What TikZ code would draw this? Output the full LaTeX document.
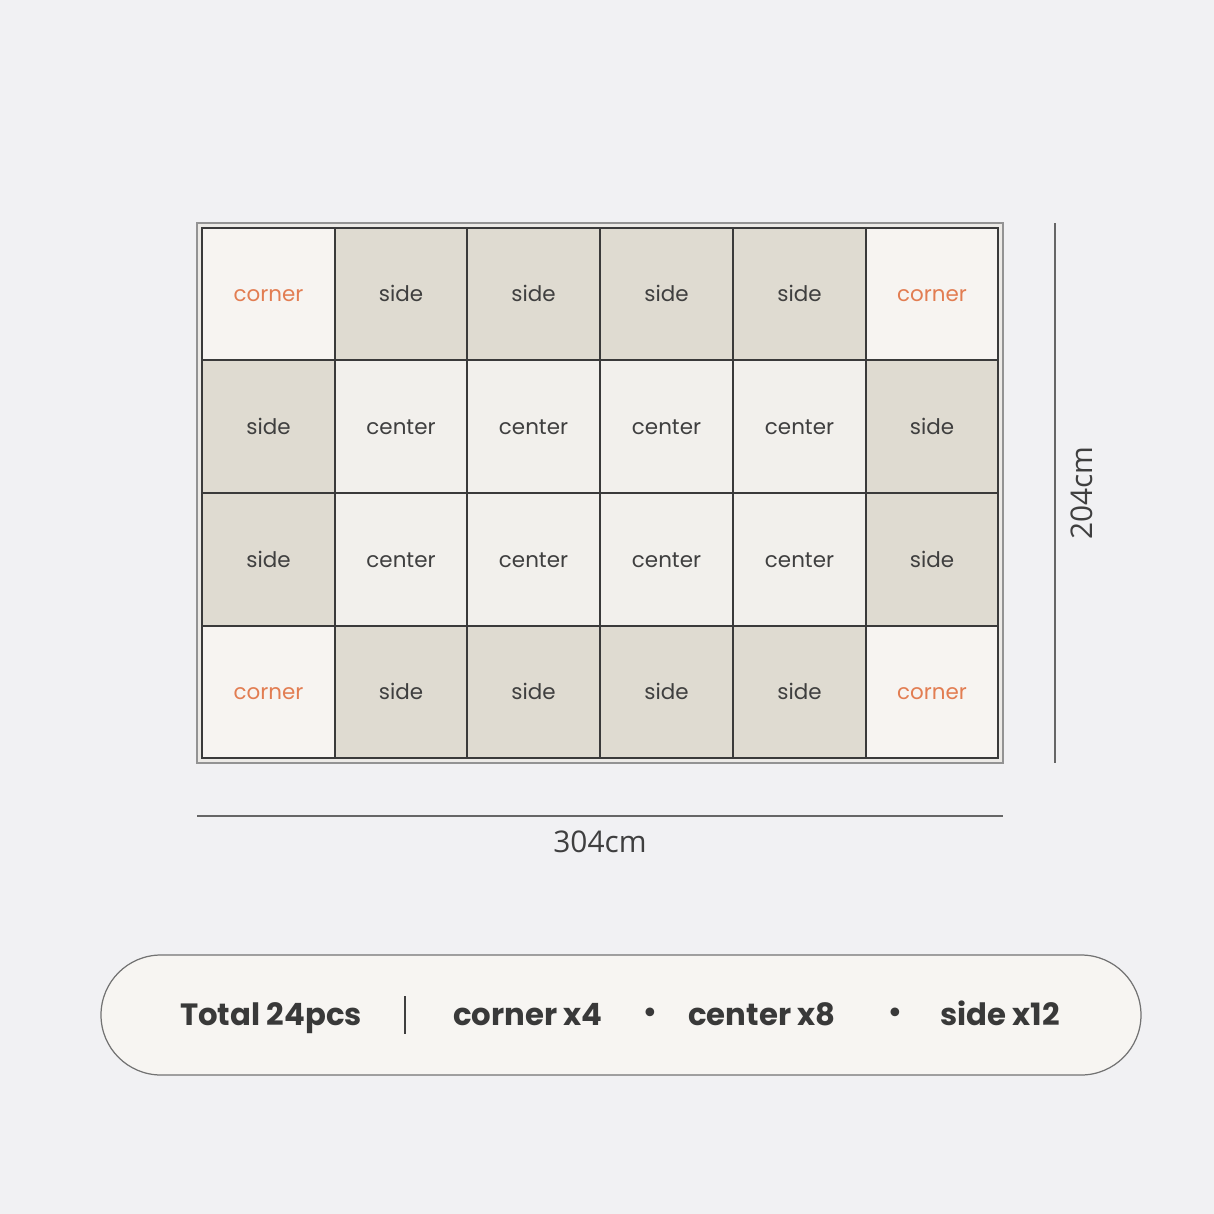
\documentclass[tikz,border=0pt]{standalone}
\usepackage{fontspec}
\setmainfont{Poppins}
\newfontfamily\dimfont{Open Sans}
\newfontfamily\dotfont{DejaVu Sans}
\usetikzlibrary{positioning}

\definecolor{pagebg}{HTML}{F1F1F3}
\definecolor{cornerfill}{HTML}{F7F4F1}
\definecolor{sidefill}{HTML}{DFDBD1}
\definecolor{centerfill}{HTML}{F2F0EC}
\definecolor{framefill}{HTML}{ECEAE6}
\definecolor{gridline}{HTML}{3A3A3A}
\definecolor{orangetext}{HTML}{E27D52}
\definecolor{darktext}{HTML}{3F3F3F}
\definecolor{pillfill}{HTML}{F7F5F2}

\tikzset{
  tile/.style={draw=gridline, line width=0.7pt, inner sep=0pt,
    text height=1.6ex, text depth=0pt,
    font=\fontsize{12.2}{14}\selectfont, text=darktext},
  cornertile/.style={tile, fill=cornerfill, text=orangetext},
  sidetile/.style={tile, fill=sidefill},
  centertile/.style={tile, fill=centerfill},
  dimline/.style={draw=gray!80!black, line width=0.8pt},
  dimlabel/.style={font=\dimfont\fontsize{17}{20}\selectfont, text=darktext},
  pilltext/.style={font=\fontsize{17.5}{20}\selectfont\bfseries, text=darktext!90!black,
    text height=2.1ex, text depth=0pt},
  pilldot/.style={font=\dotfont\bfseries\fontsize{14}{16}\selectfont, text=darktext!90!black}
}

\begin{document}
\begin{tikzpicture}[x=0.02cm, y=-0.02cm]
\useasboundingbox[fill=pagebg] (0,0) rectangle (1214,1214);

% frame round the mat
\draw[fill=framefill, draw=gray!85, line width=0.7pt] (197,223) rectangle (1003,763);

% the 24 tiles
\foreach \c/\xa/\xb in {0/202/335,1/335/467,2/467/600,3/600/733,4/733/866,5/866/998}{
  \foreach \r/\ya/\yb in {0/228/360,1/360/493,2/493/626,3/626/758}{
    \pgfmathtruncatemacro{\edge}{(\c==0||\c==5)+(\r==0||\r==3)}
    \ifcase\edge \def\kind{center}\or \def\kind{side}\or \def\kind{corner}\fi
    \node[\kind tile, minimum width={(\xb-\xa)*0.02cm}, minimum height={(\yb-\ya)*0.02cm}]
      (t\c\r) at ({(\xa+\xb)/2},{(\ya+\yb)/2}) {\kind};
  }
}

% dimensions
\coordinate (wl) at (197,816);
\coordinate (wr) at (1003,816);
\draw[dimline] (wl) -- (wr);
\node[dimlabel] (width) at (600,842) {304cm};
\coordinate (ht) at (1055,223);
\coordinate (hb) at (1055,763);
\draw[dimline] (ht) -- (hb);
\node[dimlabel, rotate=90] (height) at (1082,493) {204cm};

% summary pill
\draw[fill=pillfill, draw=gray!90!black, line width=0.7pt, rounded corners=60*0.02cm]
  (101,955) rectangle (1141,1075);
\node[pilltext] (total) at (271,1015) {Total 24pcs};
\coordinate (bartop) at (405,996);
\coordinate (barbot) at (405,1034);
\draw[darktext, line width=1.7pt] (bartop) -- (barbot);
\node[pilltext] (corners) at (528,1015) {corner x4};
\node[pilldot] (dot1) at (650,1015) {•};
\node[pilltext] (centers) at (762,1015) {center x8};
\node[pilldot] (dot2) at (895,1015) {•};
\node[pilltext] (sides) at (1000,1015) {side x12};
\end{tikzpicture}
\end{document}
